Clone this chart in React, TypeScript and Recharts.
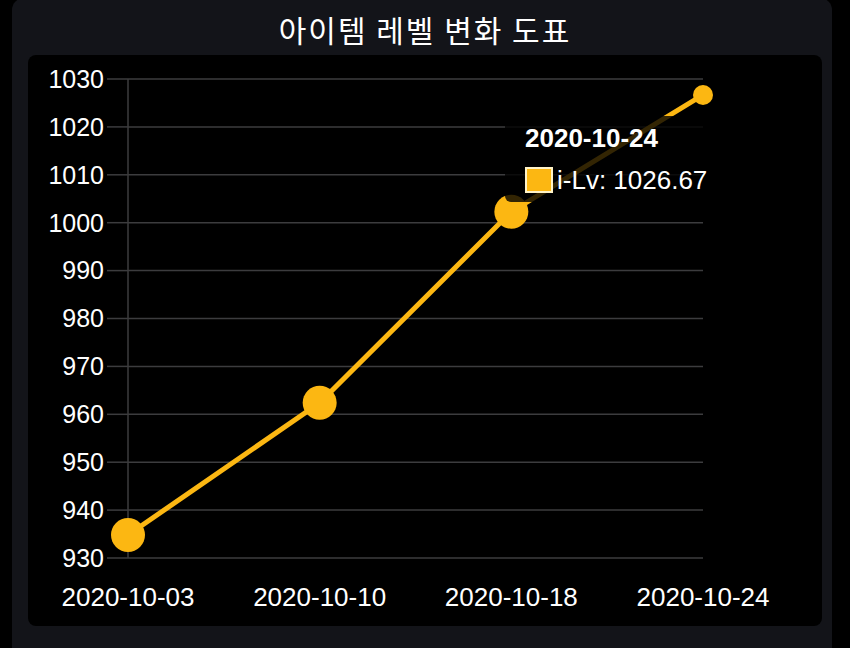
import { CartesianGrid, Line, LineChart, Tooltip, XAxis, YAxis } from "recharts";

const dates = ["2020-10-03", "2020-10-10", "2020-10-18", "2020-10-24"];
const levels = [934.8, 962.4, 1002.3, 1026.67];
const yTicks = [930, 940, 950, 960, 970, 980, 990, 1000, 1010, 1020, 1030];

const LINE_COLOR = "#fcb712";
const GRID = "#3c3c3e";
const FONT = "'Liberation Sans', Arial, sans-serif";

const data = dates.map((d, i) => ({ date: d, lv: levels[i] }));

function Dot(props: any) {
  const { cx, cy, index } = props;
  const r = index === dates.length - 1 ? 10 : 17;
  return <circle key={index} cx={cx} cy={cy} r={r} fill={LINE_COLOR} />;
}

function TipBox(props: any) {
  const p = props.payload && props.payload[0];
  const label = p ? p.payload.date : dates[dates.length - 1];
  const value = p ? p.value : levels[levels.length - 1];
  return (
    <div
      style={{
        background: "rgba(0,0,0,0.8)",
        borderRadius: 6,
        padding: "7px 8px 8px 20px",
        fontFamily: FONT,
        color: "#fff",
        whiteSpace: "nowrap",
      }}
    >
      <div style={{ fontSize: 26, fontWeight: 700, lineHeight: "30px" }}>{label}</div>
      <div style={{ display: "flex", alignItems: "center", marginTop: 13, fontSize: 26, lineHeight: "28px" }}>
        <span
          style={{
            display: "inline-block",
            width: 24,
            height: 22,
            background: LINE_COLOR,
            border: "2px solid #fff3c8",
            marginRight: 4,
          }}
        />
        <span>i-Lv: {value}</span>
      </div>
    </div>
  );
}

export default function App() {
  return (
    <div style={{ position: "fixed", left: 0, top: 0, width: 850, height: 648, background: "#000", overflow: "hidden" }}>
      <div
        style={{
          position: "absolute",
          left: 12,
          top: -2,
          width: 820,
          height: 680,
          background: "#131419",
          borderRadius: 12,
        }}
      />
      <div
        style={{
          position: "absolute",
          left: 0,
          top: 9,
          width: 850,
          textAlign: "center",
          color: "#fff",
          fontFamily: "'Noto Sans CJK KR', sans-serif",
          fontSize: 30,
          letterSpacing: 2,
          lineHeight: "40px",
        }}
      >
        아이템 레벨 변화 도표
      </div>
      <div
        style={{
          position: "absolute",
          left: 28,
          top: 55,
          width: 794,
          height: 571,
          background: "#000",
          borderRadius: 8,
        }}
      >
        <LineChart width={794} height={571} data={data} margin={{ top: 24, right: 119, left: 0, bottom: 0 }}>
          <CartesianGrid vertical={false} stroke={GRID} strokeWidth={1.5} />
          <XAxis
            dataKey="date"
            height={68}
            axisLine={false}
            tickLine={false}
            tickSize={6}
            tickMargin={24}
            interval={0}
            tick={{ fill: "#fff", fontSize: 26, fontFamily: FONT }}
          />
          <YAxis
            width={100}
            domain={[930, 1030]}
            ticks={yTicks}
            interval={0}
            axisLine={{ stroke: GRID, strokeWidth: 1.5 }}
            tickLine={{ stroke: GRID, strokeWidth: 1.5 }}
            tickSize={21}
            tickMargin={3}
            tick={{ fill: "#fff", fontSize: 25, fontFamily: FONT }}
          />
          <Line
            dataKey="lv"
            stroke={LINE_COLOR}
            strokeWidth={5}
            dot={Dot}
            activeDot={false}
            isAnimationActive={false}
          />
          <Tooltip
            active
            defaultIndex={3}
            cursor={false}
            isAnimationActive={false}
            position={{ x: 477, y: 61 }}
            content={TipBox}
            wrapperStyle={{ outline: "none" }}
          />
        </LineChart>
      </div>
    </div>
  );
}
